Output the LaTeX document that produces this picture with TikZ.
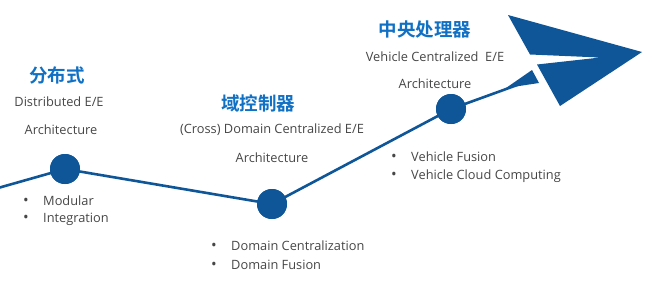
\documentclass[tikz,border=0pt]{standalone}
\usepackage{fontspec}
\setmainfont{Open Sans}
\newfontfamily\cjk{Noto Sans CJK SC}[BoldFont={Noto Sans CJK SC Bold}]
\definecolor{lineblue}{RGB}{14,86,152}
\definecolor{titleblue}{RGB}{16,112,196}
\definecolor{txtgray}{RGB}{70,70,70}
\newcommand{\bul}[1]{\makebox[20pt][l]{\fontsize{15}{14}\selectfont•}#1}
\begin{document}
\begin{tikzpicture}[x=1pt,y=-1pt,
  stage/.style={circle,fill=lineblue,minimum size=30pt,inner sep=0pt},
  title/.style={font=\cjk\bfseries\fontsize{18.5}{18.5}\selectfont,text=titleblue,inner sep=0pt},
  desc/.style={font=\fontsize{12.8}{14}\selectfont,text=txtgray,inner sep=0pt},
  bullet/.style={font=\fontsize{12.8}{14}\selectfont,text=txtgray,inner sep=0pt,anchor=west},
  conn/.style={draw=lineblue,line width=2.6pt}]
\useasboundingbox (0,0) rectangle (650,290);
% path
\coordinate (s) at (-2,188);
\coordinate (e) at (520,84);
\node[stage] (n1) at (65,169) {};
\node[stage] (n2) at (272,204) {};
\node[stage] (n3) at (451,109) {};
\draw[conn] (s) -- (n1.center) -- (n2.center) -- (n3.center) -- (e);
\node[stage] at (n1) {};
\node[stage] at (n2) {};
\node[stage] at (n3) {};
% tail wedge and plane
\fill[lineblue] (506,88) -- (532,70) -- (539,83) -- cycle;
\fill[lineblue] (508,15) -- (642,52) -- (560,106) -- (537,64.5) -- (600,57.5) -- (530,54.5) -- cycle;
% stage 1
\node[title] (t1) at (57,75) {分布式};
\node[desc] (d1a) at (59,102) {Distributed E/E};
\node[desc] (d1b) at (61,130) {Architecture};
\node[bullet] (b1a) at (23,201) {\bul{Modular}};
\node[bullet] (b1b) at (23,219) {\bul{Integration}};
% stage 2
\node[title] (t2) at (258,103) {域控制器};
\node[desc] (d2a) at (272,130) {(Cross) Domain Centralized E/E};
\node[desc] (d2b) at (272,158) {Architecture};
\node[bullet] (b2a) at (211,246) {\bul{Domain Centralization}};
\node[bullet] (b2b) at (211,265) {\bul{Domain Fusion}};
% stage 3
\node[title] (t3) at (425,30) {中央处理器};
\node[desc] (d3a) at (435,57) {Vehicle Centralized\ \ E/E};
\node[desc] (d3b) at (435,84) {Architecture};
\node[bullet] (b3a) at (391,157) {\bul{Vehicle Fusion}};
\node[bullet] (b3b) at (391,176) {\bul{Vehicle Cloud Computing}};
\end{tikzpicture}
\end{document}
